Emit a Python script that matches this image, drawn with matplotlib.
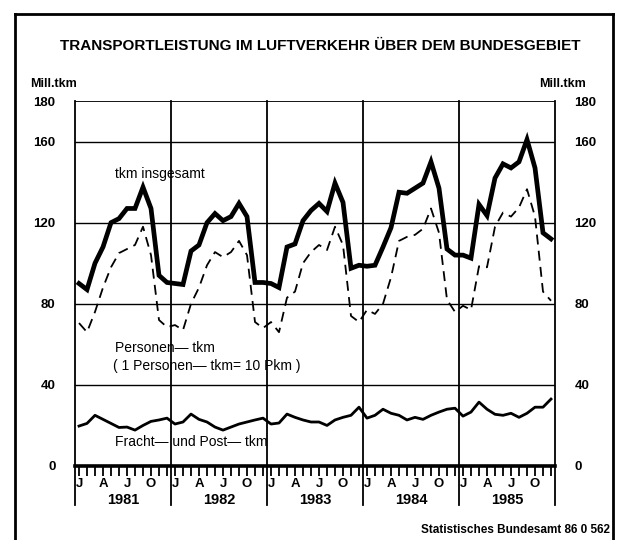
import numpy as np
import matplotlib
matplotlib.use("Agg")
import matplotlib.pyplot as plt
from matplotlib.lines import Line2D

plt.rcParams['font.family'] = ['Liberation Sans', 'DejaVu Sans']

# monthly values, Jan 1981 - Dec 1985 (Mill. tkm)
years = ['1981', '1982', '1983', '1984', '1985']
month_letters = ['J', 'A', 'J', 'O']

tkm_total = [
    90, 87, 100, 108, 120, 122, 127, 127, 137.5, 127, 94, 90.5,
    90, 89.5, 106, 109, 120, 124.5, 121, 123, 129.5, 123, 90.5, 90.5,
    90, 88, 108, 109.5, 121, 126, 129.5, 125.5, 139.5, 130, 97.5, 99,
    98.5, 99, 108, 117.5, 135, 134.5, 137, 139.5, 150, 137, 107, 104,
    104, 102.5, 129, 123.5, 142, 149, 147, 150, 161, 147, 115, 112,
]
personen_tkm = [
    70.5, 66, 76, 88, 98, 105, 107, 109, 118, 104, 72, 68.5,
    69.5, 67, 80, 88, 99, 105.5, 103, 105.5, 111, 104, 71, 68,
    71, 66, 83, 86, 100, 105.5, 109, 106.5, 118, 109, 74, 71,
    77, 75, 80, 93, 111, 113, 114, 117, 127, 115, 82, 76,
    79, 77, 98.5, 98, 118, 125, 123, 127.5, 136.5, 123, 86, 81.5,
]
fracht_tkm = [
    19.7, 21, 25, 23, 21, 19, 19.2, 17.7, 20, 22, 22.7, 23.6,
    20.7, 21.7, 25.6, 23, 21.7, 19.2, 17.7, 19.2, 20.7, 21.7, 22.7, 23.6,
    20.7, 21.2, 25.6, 24, 22.7, 21.7, 21.7, 20, 22.7, 24, 25, 29,
    23.6, 25, 28, 26, 25, 22.7, 24, 23, 25, 26.6, 28, 28.5,
    24.6, 26.6, 31.5, 28, 25.5, 25, 26, 24, 26, 29, 29, 33,
]

x = np.arange(len(tkm_total)) + 0.5

fig = plt.figure(figsize=(6.22, 5.4), dpi=100)
ax = fig.add_axes([75 / 622, 74 / 540, 480 / 622, 365 / 540])

ax.plot(x, tkm_total, color='black', lw=3.4, solid_joinstyle='miter')
ax.plot(x, personen_tkm, color='black', lw=1.3, dashes=(5.5, 3.5))
ax.plot(x, fracht_tkm, color='black', lw=2.0)

ax.set_xlim(0, 60)
ax.set_ylim(0, 180)

# horizontal grid
for v in [40, 80, 120, 160]:
    ax.axhline(v, color='black', lw=1.0)
ax.axhline(0, color='black', lw=2.6, clip_on=False)

# year separators running down through the label strip
for b in range(0, 61, 12):
    ax.axvline(b, ymin=-0.107, ymax=1, color='black', lw=1.3, clip_on=False)

for s in ax.spines.values():
    s.set_visible(False)
ax.axhline(180, color='black', lw=1.3)

# month ticks
ax.set_xticks(x)
ax.set_xticklabels([])
ax.tick_params(axis='x', direction='out', length=7, width=1.3)

# y labels left and right
ax.set_yticks([0, 40, 80, 120, 160, 180])
ax.set_yticklabels(['0', '40', '80', '120', '160', '180'], fontweight='bold', fontsize=9.5)
ax.tick_params(axis='y', length=0, pad=14, labelright=True)

# month letters and years
for yi, yr in enumerate(years):
    for k, lab in enumerate(month_letters):
        ax.text(yi * 12 + k * 3 + 0.5, -0.049, lab, transform=ax.get_xaxis_transform(),
                ha='center', va='center', fontsize=9.5, fontweight='bold')
    ax.text(yi * 12 + 6, -0.093, yr, transform=ax.get_xaxis_transform(),
            ha='center', va='center', fontsize=10.5, fontweight='bold')

# series labels
ax.text(5, 142, 'tkm insgesamt', fontsize=10)
ax.text(5, 56, 'Personen\u2014 tkm', fontsize=10)
ax.text(4.8, 47.5, '( 1 Personen\u2014 tkm= 10 Pkm )', fontsize=10)
ax.text(5, 10, 'Fracht\u2014 und Post\u2014 tkm', fontsize=10)

# titles and units
fig.text(320 / 622, 1 - 46 / 540, 'TRANSPORTLEISTUNG IM LUFTVERKEHR \u00dcBER DEM BUNDESGEBIET',
         ha='center', va='center', fontsize=11, fontweight='bold')
fig.text(30 / 622, 1 - 84 / 540, 'Mill.tkm', ha='left', va='center', fontsize=9, fontweight='bold')
fig.text(586 / 622, 1 - 84 / 540, 'Mill.tkm', ha='right', va='center', fontsize=9, fontweight='bold')
fig.text(610 / 622, 1 - 530 / 540, 'Statistisches Bundesamt 86 0 562', ha='right', va='center',
         fontsize=8.5, fontweight='bold')

# outer frame
fig.add_artist(Line2D([15 / 622, 15 / 622], [0, 1 - 14 / 540], color='black', lw=2))
fig.add_artist(Line2D([15 / 622, 613 / 622], [1 - 14 / 540, 1 - 14 / 540], color='black', lw=2))
fig.add_artist(Line2D([613 / 622, 613 / 622], [0, 1 - 14 / 540], color='black', lw=2))

fig.savefig('out.png', dpi=100)
